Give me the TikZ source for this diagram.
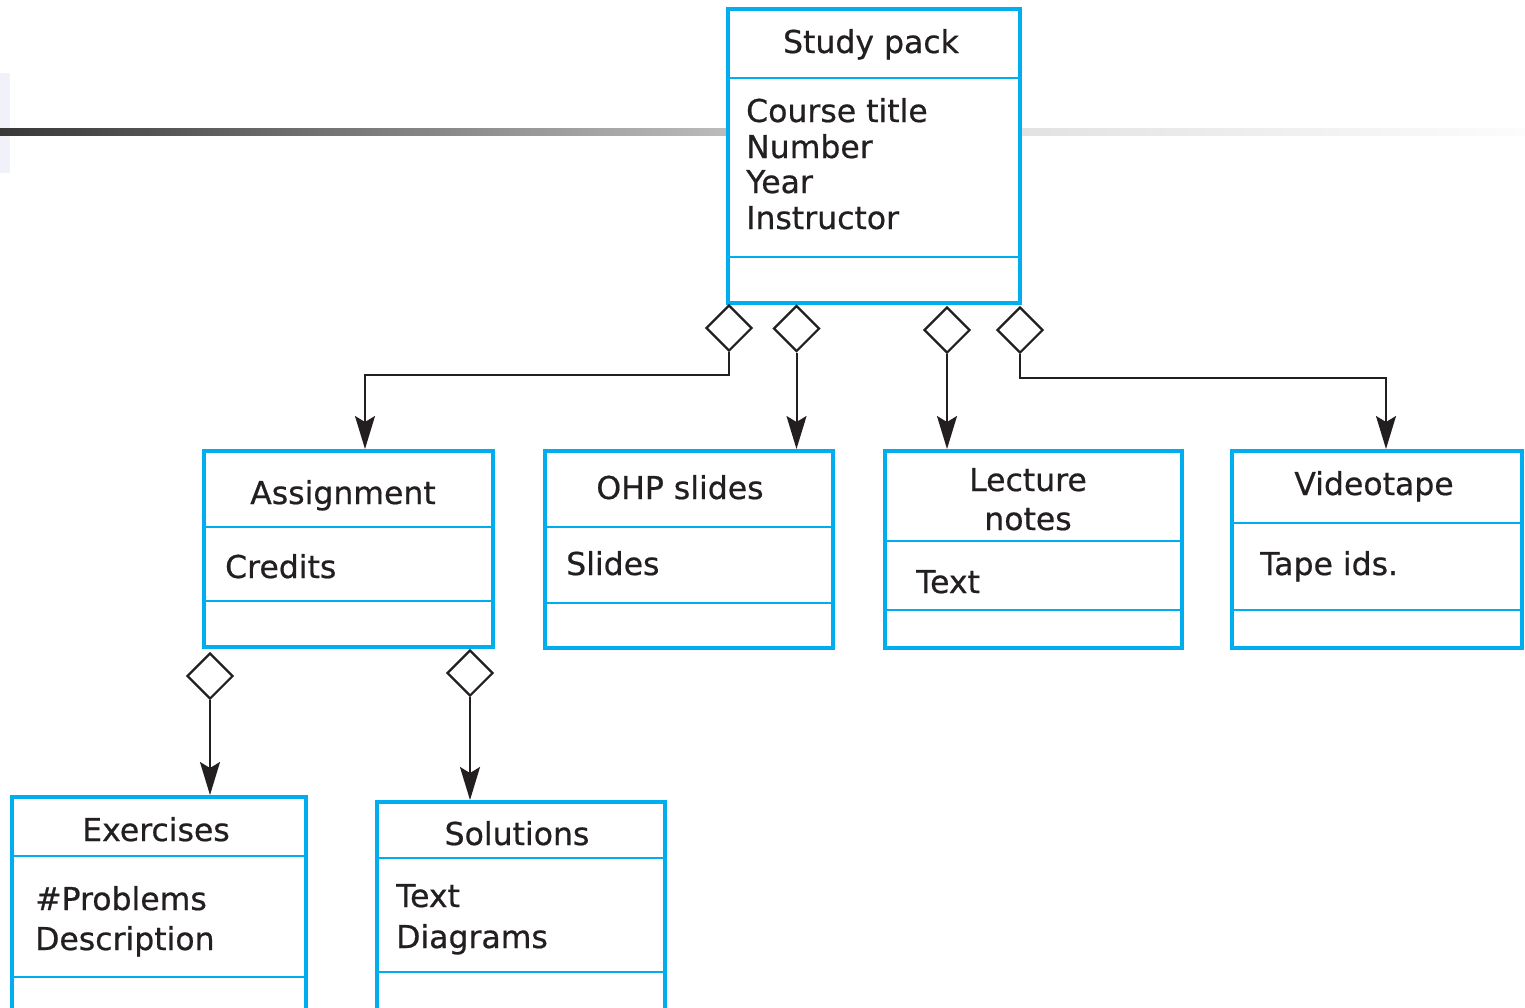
\documentclass[tikz,border=0pt]{standalone}
\usepackage{fontspec}
\setmainfont{DejaVu Sans}[FakeBold=0.6]
\usetikzlibrary{shapes.geometric,arrows.meta}
\definecolor{umlblue}{RGB}{0,174,239}
\definecolor{ink}{RGB}{35,31,32}
\definecolor{barA}{RGB}{56,56,56}
\definecolor{barB}{RGB}{188,188,188}
\definecolor{barC}{RGB}{226,226,226}
\definecolor{barD}{RGB}{252,252,252}
\definecolor{lav}{RGB}{241,241,249}
\tikzset{
  cls/.style={draw=umlblue, line width=4pt, fill=white, rectangle, inner sep=0pt},
  divider/.style={draw=umlblue, line width=2pt},
  diam/.style={diamond, draw=ink, line width=2.2pt, fill=white, inner sep=0pt, minimum width=46pt, minimum height=46pt},
  conn/.style={draw=ink, line width=2pt, -{Stealth[length=33pt,width=20pt,inset=6pt]}},
  txt/.style={font=\fontsize{31.5}{36}\selectfont, text=ink, inner sep=0pt},
  lft/.style={txt, anchor=base west},
  ctr/.style={txt, anchor=base}
}
\begin{document}
\begin{tikzpicture}[x=1pt,y=-1pt]
\useasboundingbox (0,0) rectangle (1525,1007);
\clip (0,0) rectangle (1525,1007);
\fill[white] (0,0) rectangle (1525,1007);
% decoration
\fill[lav] (0,73) rectangle (10,173);
\shade[left color=barA, right color=barB] (0,128) rectangle (728,135);
\shade[left color=barC, right color=barD] (1020,128) rectangle (1525,135);

% Study pack
\node[cls, minimum width=292pt, minimum height=294pt] (sp) at (874,156) {};
\draw[divider] (728,78) -- (1020,78);
\draw[divider] (728,257) -- (1020,257);
\node[ctr] (spt) at (871,53) {Study pack};
\node[lft] (sp1) at (746,122) {Course title};
\node[lft] (sp2) at (746,158) {Number};
\node[lft] (sp3) at (746,193) {Year};
\node[lft] (sp4) at (746,229) {Instructor};

% Assignment
\node[cls, minimum width=289pt, minimum height=196pt] (asg) at (348.5,549) {};
\draw[divider] (204,527) -- (493,527);
\draw[divider] (204,601) -- (493,601);
\node[ctr] (asgt) at (343,504) {Assignment};
\node[lft] (asg1) at (225,578) {Credits};

% OHP slides
\node[cls, minimum width=288pt, minimum height=197pt] (ohp) at (689,549.5) {};
\draw[divider] (545,527) -- (833,527);
\draw[divider] (545,603) -- (833,603);
\node[ctr] (ohpt) at (680,499) {OHP slides};
\node[lft] (ohp1) at (566,575) {Slides};

% Lecture notes
\node[cls, minimum width=297pt, minimum height=197pt] (lec) at (1033.5,549.5) {};
\draw[divider] (885,541) -- (1182,541);
\draw[divider] (885,610) -- (1182,610);
\node[ctr] (lect1) at (1028,491) {Lecture};
\node[ctr] (lect2) at (1028,530) {notes};
\node[lft] (lec1) at (916,593) {Text};

% Videotape
\node[cls, minimum width=290pt, minimum height=197pt] (vid) at (1377,549.5) {};
\draw[divider] (1232,523) -- (1522,523);
\draw[divider] (1232,610) -- (1522,610);
\node[ctr] (vidt) at (1374,495) {Videotape};
\node[lft] (vid1) at (1260,575) {Tape ids.};

% Exercises
\node[cls, minimum width=294pt, minimum height=230pt] (exe) at (159,912) {};
\draw[divider] (12,856) -- (306,856);
\draw[divider] (12,977) -- (306,977);
\node[ctr] (exet) at (156,841) {Exercises};
\node[lft] (exe1) at (35,910) {\#Problems};
\node[lft] (exe2) at (35,950) {Description};

% Solutions
\node[cls, minimum width=288pt, minimum height=226pt] (sol) at (521,915) {};
\draw[divider] (377,858) -- (665,858);
\draw[divider] (377,972) -- (665,972);
\node[ctr] (solt) at (517,845) {Solutions};
\node[lft] (sol1) at (396,907) {Text};
\node[lft] (sol2) at (396,948) {Diagrams};

% aggregation diamonds
\node[diam] (d1) at (729,328) {};
\node[diam] (d2) at (796.5,328.5) {};
\node[diam] (d3) at (947,330) {};
\node[diam] (d4) at (1020,330) {};
\node[diam] (a1) at (210,676) {};
\node[diam] (a2) at (470,673) {};

% connectors
\coordinate (k1) at (365,375);
\coordinate (k4) at (1386,378);
\draw[conn] (d1.south) |- (k1) -- (k1 |- asg.north);
\draw[conn] (d2.south) -- (d2.south |- ohp.north);
\draw[conn] (d3.south) -- (d3.south |- lec.north);
\draw[conn] (d4.south) |- (k4) -- (k4 |- vid.north);
\draw[conn] (a1.south) -- (a1.south |- exe.north);
\draw[conn] (a2.south) -- (a2.south |- sol.north);
\end{tikzpicture}
\end{document}
